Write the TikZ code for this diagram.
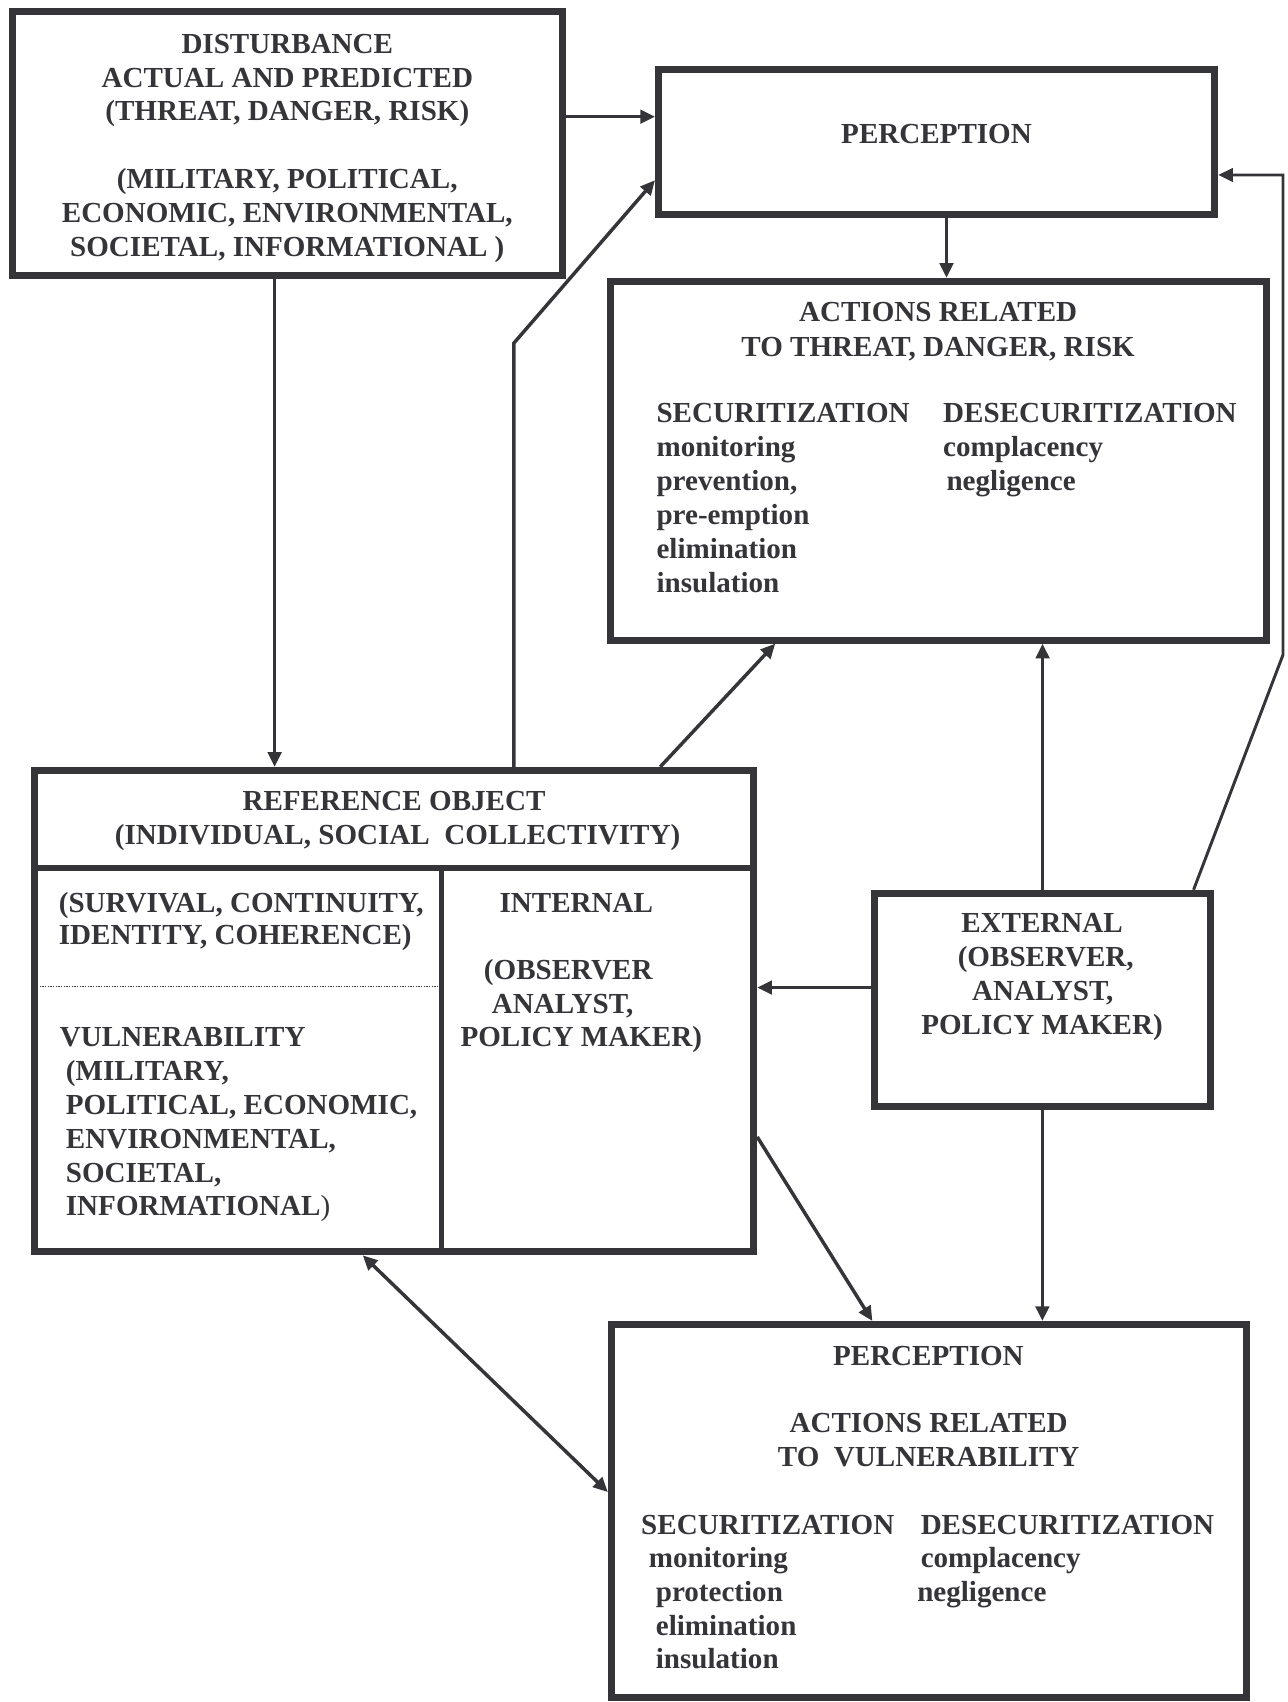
\documentclass[tikz,border=0pt]{standalone}
\usepackage{fontspec}
\setmainfont{Liberation Serif}
\usetikzlibrary{arrows.meta,fit}
\definecolor{ink}{RGB}{52,52,57}
\begin{document}
\begin{tikzpicture}[x=0.8139pt,y=-0.8139pt,
  box/.style={draw=ink, line width=5.2pt, rectangle, inner sep=0pt},
  conn/.style={draw=ink, line width=2.6pt},
  tip/.style={-{Triangle[length=11pt,width=10pt]}},
  arr/.style={conn, tip},
  txt/.style={inner sep=0pt, text=ink, font=\fontsize{21.8}{25}\selectfont\bfseries},
  ctr/.style={txt, anchor=base},
  lft/.style={txt, anchor=base west}]
\useasboundingbox (0,0) rectangle (1186,1568);

% boxes
\node[box, fit={(11.7,10.9) (518.4,253.8)}] (dist) {};
\node[box, fit={(606.6,64.1) (1119.1,198)}] (perc) {};
\node[box, fit={(562.2,259.2) (1166.8,589.8)}] (act) {};
\node[box, fit={(31.6,709.7) (694.4,1153.3)}] (ref) {};
\node[box, fit={(805.6,822.9) (1114.8,1019.4)}] (ext) {};
\node[box, fit={(563.2,1220.2) (1148.2,1563.8)}] (bot) {};

% internal dividers of reference object
\coordinate (hd) at (0,799.5);
\coordinate (vd) at (407,799.5);
\draw[ink, line width=4.2pt] (ref.west |- hd) -- (ref.east |- hd);
\draw[ink, line width=3.6pt] (vd) -- (vd |- ref.south);
\coordinate (dl) at (0,909);
\draw[ink, line width=0.9pt, dash pattern=on 0.9pt off 1.1pt] ([xshift=2.6pt]ref.west |- dl) -- ([xshift=-1.8pt]vd |- dl);

% texts: disturbance
\node[ctr] (d1) at (264.7,49.1) {DISTURBANCE};
\node[ctr] (d2) at (264.7,80.5) {ACTUAL AND PREDICTED};
\node[ctr] (d3) at (264.7,111.2) {(THREAT, DANGER, RISK)};
\node[ctr] (d4) at (264.7,173.5) {(MILITARY, POLITICAL,};
\node[ctr] (d5) at (264.7,205.2) {ECONOMIC, ENVIRONMENTAL,};
\node[ctr] (d6) at (264.7,236) {SOCIETAL, INFORMATIONAL )};

% perception (top)
\node[ctr] (p1) at (862.8,132.5) {PERCEPTION};

% actions related to threat
\node[ctr] (a1) at (864.3,296.4) {ACTIONS RELATED};
\node[ctr] (a2) at (864.3,328) {TO THREAT, DANGER, RISK};
\node[lft] (a3) at (604.6,389) {SECURITIZATION};
\node[lft] (a4) at (604.6,420.5) {monitoring};
\node[lft] (a5) at (604.6,452) {prevention,};
\node[lft] (a6) at (604.6,483) {pre-emption};
\node[lft] (a7) at (604.6,514.5) {elimination};
\node[lft] (a8) at (604.6,546) {insulation};
\node[lft] (a9) at (868.7,389) {DESECURITIZATION};
\node[lft] (a10) at (868.7,420.5) {complacency};
\node[lft] (a11) at (871.8,452) {negligence};

% reference object
\node[ctr] (r1) at (363,747) {REFERENCE OBJECT};
\node[ctr] (r2) at (366.3,777.8) {(INDIVIDUAL, SOCIAL\ \ COLLECTIVITY)};
\node[lft] (r3) at (54,841) {(SURVIVAL, CONTINUITY,};
\node[lft] (r4) at (54,870.5) {IDENTITY, COHERENCE)};
\node[lft] (r5) at (55,964) {VULNERABILITY};
\node[lft] (r6) at (60.5,995) {(MILITARY,};
\node[lft] (r7) at (60.5,1026.5) {POLITICAL, ECONOMIC,};
\node[lft] (r8) at (60.5,1058) {ENVIRONMENTAL,};
\node[lft] (r9) at (60.5,1089) {SOCIETAL,};
\node[lft] (r10) at (60.5,1119.6) {INFORMATIONAL\textmd{)}};
\node[lft] (r11) at (460,841) {INTERNAL};
\node[lft] (r12) at (445.6,902.4) {(OBSERVER};
\node[lft] (r13) at (453,933.8) {ANALYST,};
\node[lft] (r14) at (424,964) {POLICY MAKER)};

% external
\node[ctr] (e1) at (960,859.3) {EXTERNAL};
\node[ctr] (e2) at (963.4,890.5) {(OBSERVER,};
\node[ctr] (e3) at (960.7,922) {ANALYST,};
\node[ctr] (e4) at (960,953.3) {POLICY MAKER)};

% bottom perception / actions related to vulnerability
\node[ctr] (b1) at (855.3,1257.7) {PERCEPTION};
\node[ctr] (b2) at (855.5,1320) {ACTIONS RELATED};
\node[ctr] (b3) at (855.6,1351) {TO\ \ VULNERABILITY};
\node[lft] (b4) at (590.5,1413.5) {SECURITIZATION};
\node[lft] (b5) at (597.6,1444.5) {monitoring};
\node[lft] (b6) at (604,1475.5) {protection};
\node[lft] (b7) at (604,1506.5) {elimination};
\node[lft] (b8) at (604,1537.5) {insulation};
\node[lft] (b9) at (848,1413.5) {DESECURITIZATION};
\node[lft] (b10) at (848,1444.5) {complacency};
\node[lft] (b11) at (844.8,1475.5) {negligence};

% connectors
\draw[arr] (dist.east |- 0,107.5) -- (perc.west |- 0,107.5);
\coordinate (k1) at (473.5,316);
\draw[arr] (ref.north -| k1) -- (k1) -- (perc.west |- 0,166);
\draw[arr] (dist.south -| 253,0) -- (ref.north -| 253,0);
\draw[arr] (perc.south -| 872,0) -- (act.north -| 872,0);
\draw[arr] (ref.north -| 608.2,0) -- (act.south -| 714.2,0);
\draw[arr] (ext.north -| 960.5,0) -- (act.south -| 960.5,0);
\coordinate (k2) at (1182,603.2);
\coordinate (k3) at (1182,161.2);
\draw[conn, line width=2.2pt, tip] (ext.north -| 1099.6,0) -- (k2) -- (k3) -- (perc.east |- k3);
\draw[arr] (ext.west |- 0,909.8) -- (ref.east |- 0,909.8);
\draw[arr] (ref.east |- 0,1047.4) -- (bot.north -| 803.7,0);
\draw[arr] (ext.south -| 960.3,0) -- (bot.north -| 960.3,0);
\draw[conn, {Triangle[length=11pt,width=10pt]}-{Triangle[length=11pt,width=10pt]}] (ref.south -| 334.2,0) -- (bot.west |- 0,1374.6);
\end{tikzpicture}
\end{document}
